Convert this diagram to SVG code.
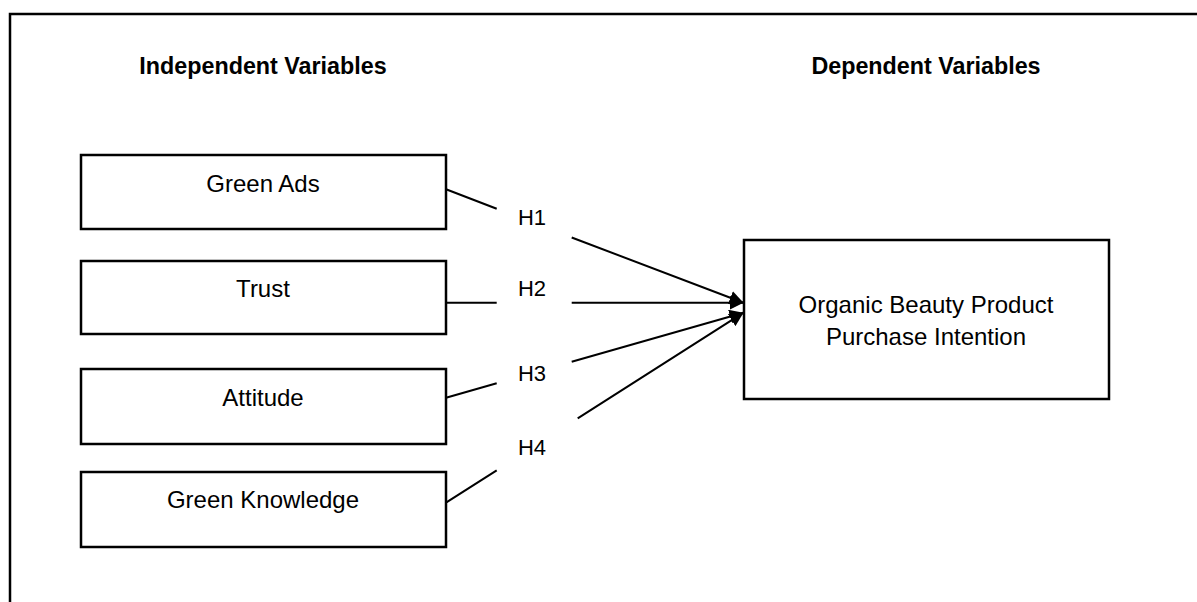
<svg xmlns="http://www.w3.org/2000/svg" width="1197" height="602" viewBox="0 0 1197 602">
<style>
.box{fill:#fff;stroke:#000;stroke-width:2.5}
.lbl{font-family:"Liberation Sans",Arial,sans-serif;font-size:24px;fill:#000;text-anchor:middle}
.hl{font-family:"Liberation Sans",Arial,sans-serif;font-size:22px;fill:#000;text-anchor:middle}
.hdr{font-family:"Liberation Sans",Arial,sans-serif;font-size:23.3px;font-weight:bold;fill:#000;text-anchor:middle}
.conn{fill:none;stroke:#000;stroke-width:2}
.frame{fill:none;stroke:#000;stroke-width:2.5}
</style>
<defs>
<marker id="arr" markerUnits="userSpaceOnUse" markerWidth="16" markerHeight="14" refX="14" refY="7" orient="auto">
<path d="M0,0 L14,7 L0,14 Z" fill="#000"/>
</marker>
</defs>
<rect width="1197" height="602" fill="#fff"/>
<path class="frame" d="M10,602 L10,14 L1197,14"/>
<text class="hdr" x="263" y="74">Independent Variables</text>
<text class="hdr" x="926" y="74">Dependent Variables</text>
<g id="connectors">
<path class="conn" marker-end="url(#arr)" d="M446,189.3 L496.7,208.8 M571.7,237.5 L743.5,302.7"/>
<path class="conn" marker-end="url(#arr)" d="M446,302.7 L496.7,302.7 M571.7,302.7 L743.5,302.7"/>
<path class="conn" marker-end="url(#arr)" d="M446,397.7 L496.7,383.2 M571.7,361.7 L743.5,312.7"/>
<path class="conn" marker-end="url(#arr)" d="M446,502.7 L496.7,470.3 M577.7,418.4 L743.5,312.7"/>
<text class="hl" x="532" y="225">H1</text>
<text class="hl" x="532" y="296">H2</text>
<text class="hl" x="532" y="380.7">H3</text>
<text class="hl" x="532" y="455">H4</text>
</g>
<g id="green-ads">
<rect class="box" x="81" y="155" width="365" height="74"/>
<text class="lbl" x="263" y="192">Green Ads</text>
</g>
<g id="trust">
<rect class="box" x="81" y="261" width="365" height="73"/>
<text class="lbl" x="263" y="297">Trust</text>
</g>
<g id="attitude">
<rect class="box" x="81" y="369" width="365" height="75"/>
<text class="lbl" x="263" y="406">Attitude</text>
</g>
<g id="green-knowledge">
<rect class="box" x="81" y="472" width="365" height="75"/>
<text class="lbl" x="263" y="508">Green Knowledge</text>
</g>
<g id="purchase-intention">
<rect class="box" x="744" y="240" width="365" height="159"/>
<text class="lbl" x="926" y="313">Organic Beauty Product</text>
<text class="lbl" x="926" y="345">Purchase Intention</text>
</g>
</svg>
